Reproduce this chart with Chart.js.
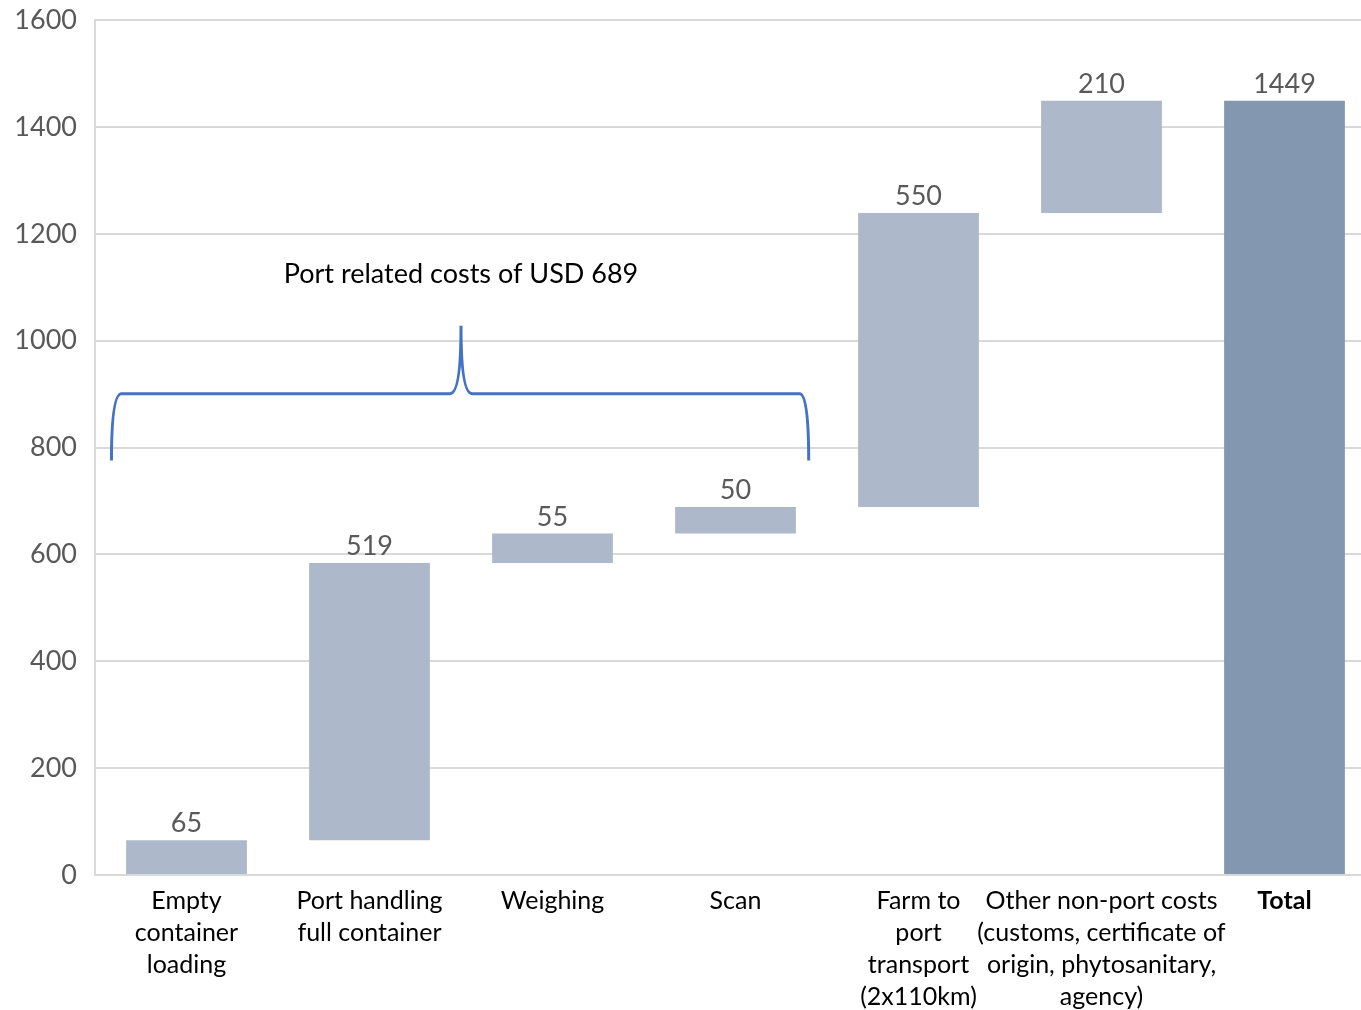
<!DOCTYPE html>
<html>
<head>
<meta charset="utf-8">
<script src="https://cdn.jsdelivr.net/npm/chart.js@4.4.0/dist/chart.umd.min.js"></script>
<style>
  html, body { margin: 0; padding: 0; background: #fff; overflow: hidden; }
  #wrap { position: relative; top: -14px; width: 1376px; height: 1024px; }
</style>
</head>
<body>
<div id="wrap"><canvas id="waterfall"></canvas></div>
<script>
const categories = [
  ["Empty", "container", "loading"],
  ["Port handling", "full container"],
  ["Weighing"],
  ["Scan"],
  ["Farm to", "port", "transport", "(2x110km)"],
  ["Other non-port costs", "(customs, certificate of", "origin, phytosanitary,", "agency)"],
  ["Total"]
];
const costs = [65, 519, 55, 50, 550, 210];
const total = 1449;
const yTicks = [0, 200, 400, 600, 800, 1000, 1200, 1400, 1600];
const braceText = "Port related costs of USD 689";

// floating bars: each step starts where the previous one ended
const ranges = [];
let running = 0;
costs.forEach((c) => {
  ranges.push([running, running + c]);
  running += c;
});
ranges.push([0, total]);
const labelValues = costs.concat([total]);

const barColors = labelValues.map((v, i) => (i === labelValues.length - 1 ? "#8497B0" : "#ADB9CA"));

const FONT = "Lato, 'Open Sans', sans-serif";

const valueLabels = {
  id: "valueLabels",
  afterDatasetsDraw(chart) {
    const ctx = chart.ctx;
    const meta = chart.getDatasetMeta(0);
    ctx.save();
    ctx.font = "27px " + FONT;
    ctx.fillStyle = "#595959";
    ctx.textAlign = "center";
    ctx.textBaseline = "bottom";
    meta.data.forEach((bar, i) => {
      ctx.fillText(String(labelValues[i]), bar.x, bar.y - 3);
    });
    ctx.restore();
  }
};

const brace = {
  id: "brace",
  afterDatasetsDraw(chart) {
    const ctx = chart.ctx;
    const xs = chart.scales.x;
    const ys = chart.scales.y;
    const step = xs.getPixelForTick(1) - xs.getPixelForTick(0);
    const px = (c) => xs.getPixelForTick(0) + c * step;
    const left = px(-0.41), right = px(3.40), mid = px(1.50);
    const yLine = ys.getPixelForValue(901);
    const yEnd = ys.getPixelForValue(776);
    const yTip = ys.getPixelForValue(1028);
    ctx.save();
    ctx.strokeStyle = "#4472C4";
    ctx.lineWidth = 3;
    ctx.beginPath();
    ctx.moveTo(left, yEnd);
    ctx.quadraticCurveTo(left, yLine, left + 10, yLine);
    ctx.lineTo(mid - 11, yLine);
    ctx.quadraticCurveTo(mid, yLine, mid, yTip);
    ctx.quadraticCurveTo(mid, yLine, mid + 11, yLine);
    ctx.lineTo(right - 9, yLine);
    ctx.quadraticCurveTo(right, yLine, right, yEnd);
    ctx.stroke();

    ctx.font = "27px " + FONT;
    ctx.fillStyle = "#000";
    ctx.textAlign = "center";
    ctx.textBaseline = "middle";
    ctx.fillText(braceText, mid, ys.getPixelForValue(1125));
    ctx.restore();
  }
};

new Chart(document.getElementById("waterfall"), {
  type: "bar",
  data: {
    labels: categories,
    datasets: [{
      data: ranges,
      backgroundColor: barColors,
      borderWidth: 0,
      categoryPercentage: 1,
      barPercentage: 0.66
    }]
  },
  options: {
    responsive: true,
    maintainAspectRatio: false,
    animation: false,
    layout: { padding: { top: 5, right: 0, bottom: 0, left: 0 } },
    plugins: {
      legend: { display: false },
      tooltip: { enabled: false }
    },
    scales: {
      x: {
        grid: { display: false },
        border: { display: true, color: "#D9D9D9", width: 2 },
        ticks: {
          color: "#000",
          padding: 2,
          maxRotation: 0,
          autoSkip: false,
          font: (c) => ({
            family: FONT,
            size: 25,
            lineHeight: 1.28,
            weight: c.index === categories.length - 1 ? "bold" : "normal"
          })
        },
        afterFit: (s) => { s.height = 135; }
      },
      y: {
        min: 0,
        max: 1600,
        afterBuildTicks: (s) => { s.ticks = yTicks.map((v) => ({ value: v })); },
        grid: { color: "#D9D9D9", lineWidth: 2, drawTicks: false },
        border: { display: true, color: "#D9D9D9", width: 2 },
        ticks: {
          color: "#595959",
          padding: 18,
          font: { family: FONT, size: 27 },
          callback: (v) => String(v)
        },
        afterFit: (s) => { s.width = 95; }
      }
    }
  },
  plugins: [valueLabels, brace]
});
</script>
</body>
</html>
